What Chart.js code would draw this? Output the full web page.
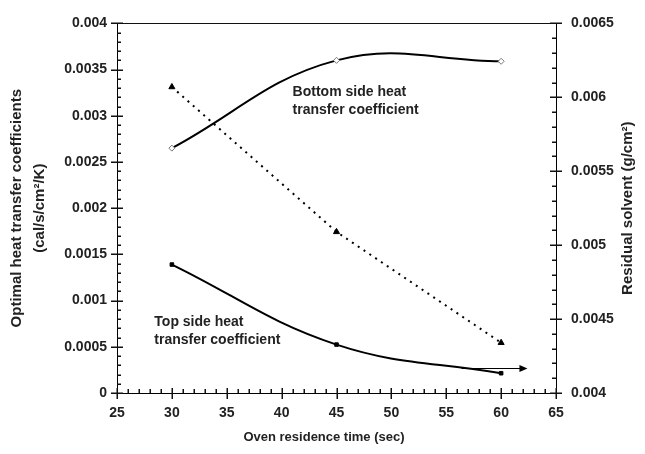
<!DOCTYPE html>
<html>
<head>
<meta charset="utf-8">
<script src="https://cdn.jsdelivr.net/npm/chart.js@4/dist/chart.umd.min.js"></script>
<style>
  html, body { margin: 0; padding: 0; background: #fff; }
  #wrap { width: 645px; height: 454px; position: relative; }
</style>
</head>
<body>
<div id="wrap"><canvas id="chart"></canvas></div>
<script>
// oven residence time (sec)
const times = [30, 45, 60];
// heat transfer coefficients (cal/s/cm2/K), left axis
const topCoef = [0.00139, 0.000524, 0.000214];
const bottomCoef = [0.00265, 0.0036, 0.00359];
// residual solvent (g/cm2), right axis
const residual = [0.00607, 0.00509, 0.00434];

const FONT = '"Liberation Sans", Arial, sans-serif';
const TXT = '#222';

function pts(vals) {
    return times.map((t, i) => ({ x: t, y: vals[i] }));
}

function fmt(v) {
    return String(Number(v.toFixed(5)));
}

// ticks, frame, titles, notes and the arrow
const decor = {
    id: 'decor',
    afterDraw(chart) {
        const { ctx, chartArea: a, scales } = chart;
        const x = scales.x, y = scales.y, y2 = scales.y2;
        ctx.save();
        ctx.fillStyle = '#111';
        const L = Math.round(a.left), R = Math.round(a.right);
        const T = Math.round(a.top), B = Math.round(a.bottom);
        ctx.fillRect(L, T, R - L, 1);

        // major ticks cross the axis, minor ones sit inside
        for (let v = 25; v <= 65; v++) {
            const px = Math.round(x.getPixelForValue(v));
            if (v % 5 === 0) ctx.fillRect(px - 0.5, B - 5, 1.5, 11);
            else ctx.fillRect(px - 0.5, B - 4, 1.5, 4);
        }
        for (let i = 0; i <= 40; i++) {
            const py = Math.round(y.getPixelForValue(i * 0.0001));
            if (i % 5 === 0) ctx.fillRect(L - 6, py - 0.5, 12, 1.5);
            else ctx.fillRect(L, py - 0.5, 4, 1.5);
        }
        for (let i = 40; i <= 65; i++) {
            const py = Math.round(y2.getPixelForValue(i * 0.0001));
            if (i % 5 === 0) ctx.fillRect(R - 6, py - 0.5, 12, 1.5);
            else ctx.fillRect(R - 4, py - 0.5, 4, 1.5);
        }

        // arrow pointing at the right axis
        const ax0 = x.getPixelForValue(56.4), ax1 = x.getPixelForValue(62.4);
        const ay = Math.round(y2.getPixelForValue(0.004167)) + 0.5;
        ctx.strokeStyle = '#000';
        ctx.lineWidth = 1;
        ctx.beginPath();
        ctx.moveTo(ax0, ay);
        ctx.lineTo(ax1 - 6, ay);
        ctx.stroke();
        ctx.beginPath();
        ctx.moveTo(ax1, ay);
        ctx.lineTo(ax1 - 8, ay - 3.5);
        ctx.lineTo(ax1 - 8, ay + 3.5);
        ctx.closePath();
        ctx.fillStyle = '#000';
        ctx.fill();

        // axis titles
        ctx.fillStyle = TXT;
        ctx.font = 'bold 15px ' + FONT;
        ctx.textAlign = 'center';
        ctx.textBaseline = 'middle';
        const midY = (a.top + a.bottom) / 2;
        const vtext = (s, cx) => {
            ctx.save();
            ctx.translate(cx, midY);
            ctx.rotate(-Math.PI / 2);
            ctx.fillText(s, 0, 0);
            ctx.restore();
        };
        vtext('Optimal heat transfer coefficients', 17);
        vtext('(cal/s/cm\u00b2/K)', 40);
        vtext('Residual solvent (g/cm\u00b2)', 628);
        ctx.font = 'bold 13px ' + FONT;
        ctx.fillText('Oven residence time (sec)', 324, 437);

        // curve notes
        ctx.font = 'bold 14px ' + FONT;
        ctx.textAlign = 'left';
        let nx = x.getPixelForValue(41), ny = y.getPixelForValue(0.00326);
        ctx.fillText('Bottom side heat', nx, ny);
        ctx.fillText('transfer coefficient', nx, ny + 18);
        nx = x.getPixelForValue(28.4); ny = y.getPixelForValue(0.00077);
        ctx.fillText('Top side heat', nx, ny);
        ctx.fillText('transfer coefficient', nx, ny + 18);
        ctx.restore();
    }
};

const tickFont = { family: FONT, size: 14, weight: 'bold' };

new Chart(document.getElementById('chart'), {
    type: 'line',
    data: {
        datasets: [{
            label: 'Top side heat transfer coefficient',
            data: pts(topCoef),
            yAxisID: 'y',
            borderColor: '#000',
            borderWidth: 2,
            tension: 0.4,
            pointStyle: 'rect',
            pointRadius: 2.5,
            pointBackgroundColor: '#000',
            pointBorderColor: '#000',
            pointBorderWidth: 1
        }, {
            label: 'Bottom side heat transfer coefficient',
            data: pts(bottomCoef),
            yAxisID: 'y',
            borderColor: '#000',
            borderWidth: 2,
            tension: 0.4,
            pointStyle: 'rectRot',
            pointRadius: 3,
            pointBackgroundColor: '#fff',
            pointBorderColor: '#777',
            pointBorderWidth: 1
        }, {
            label: 'Residual solvent',
            data: pts(residual),
            yAxisID: 'y2',
            borderColor: '#000',
            borderWidth: 2,
            borderDash: [2, 5],
            tension: 0,
            pointStyle: 'triangle',
            pointRadius: 3.5,
            pointBackgroundColor: '#000',
            pointBorderColor: '#000',
            pointBorderWidth: 1
        }]
    },
    options: {
        responsive: true,
        maintainAspectRatio: false,
        animation: false,
        layout: { padding: { top: 18 } },
        plugins: {
            legend: { display: false },
            tooltip: { enabled: false }
        },
        scales: {
            x: {
                type: 'linear',
                min: 25,
                max: 65,
                grid: { display: false, drawTicks: false },
                border: { display: true, color: '#000', width: 1 },
                ticks: { stepSize: 5, padding: 12, color: TXT, font: tickFont },
                afterFit(s) { s.height = 61; }
            },
            y: {
                position: 'left',
                min: 0,
                max: 0.004,
                grid: { display: false, drawTicks: false },
                border: { display: true, color: '#000', width: 1 },
                ticks: { stepSize: 0.0005, padding: 10, color: TXT, callback: fmt, font: tickFont },
                afterFit(s) { s.width = 117; }
            },
            y2: {
                position: 'right',
                min: 0.004,
                max: 0.0065,
                grid: { display: false, drawTicks: false },
                border: { display: true, color: '#000', width: 1 },
                ticks: { stepSize: 0.0005, padding: 15, color: TXT, callback: fmt, font: tickFont },
                afterFit(s) { s.width = 89; }
            }
        }
    },
    plugins: [decor]
});
</script>
</body>
</html>
